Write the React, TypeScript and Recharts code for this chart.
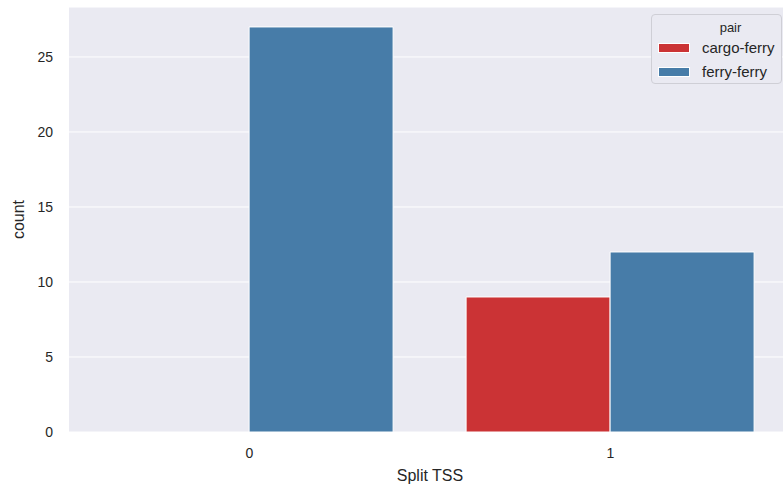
import { BarChart, Bar, XAxis, YAxis, CartesianGrid, Legend } from "recharts";

const categories = ["0", "1"];
const cargoFerry: (number | null)[] = [null, 9];
const ferryFerry: (number | null)[] = [27, 12];
const yTicks = [0, 5, 10, 15, 20, 25];

const RED = "#cb3335";
const BLUE = "#477ca8";
const FONT = "Arial, 'Liberation Sans', sans-serif";

const data = categories.map((c, i) => ({
  split: c,
  "cargo-ferry": cargoFerry[i],
  "ferry-ferry": ferryFerry[i],
}));

function LegendBox() {
  const items = [
    { name: "cargo-ferry", color: RED },
    { name: "ferry-ferry", color: BLUE },
  ];
  return (
    <div
      style={{
        width: 131,
        height: 70,
        boxSizing: "border-box",
        border: "1px solid #cfcfd6",
        borderRadius: 4,
        background: "#eaeaf2",
        fontFamily: FONT,
        color: "#262626",
        position: "relative",
      }}
    >
      <div style={{ position: "absolute", left: 0, right: 0, top: 5, textAlign: "center", fontSize: 13, paddingLeft: 28 }}>
        pair
      </div>
      {items.map((it, i) => (
        <div key={it.name} style={{ position: "absolute", left: 6, top: 27 + i * 24, display: "flex", alignItems: "center" }}>
          <div style={{ width: 32, height: 10, background: it.color, border: "1px solid #fff", boxSizing: "border-box" }} />
          <span style={{ marginLeft: 12, fontSize: 15, lineHeight: "12px" }}>{it.name}</span>
        </div>
      ))}
    </div>
  );
}

export default function App() {
  return (
    <div style={{ position: "fixed", left: 0, top: 0, width: 783, height: 487, overflow: "hidden", background: "#fff" }}>
      <BarChart
        width={791}
        height={487}
        data={data}
        margin={{ top: 7, right: 0, bottom: 0, left: 0 }}
        barCategoryGap="10%"
        barGap={0}
      >
        <CartesianGrid vertical={false} stroke="#ffffff" strokeWidth={1} fill="#eaeaf2" />
        <XAxis
          dataKey="split"
          axisLine={false}
          tickLine={false}
          tickSize={0}
          tickMargin={16}
          height={55}
          tick={{ fontSize: 14, fill: "#262626", fontFamily: FONT }}
          label={{ value: "Split TSS", position: "insideBottom", offset: 6, fontSize: 16, fill: "#262626", fontFamily: FONT }}
        />
        <YAxis
          width={69}
          domain={[0, 28.33]}
          ticks={yTicks}
          axisLine={false}
          tickLine={false}
          tickSize={0}
          tickMargin={16}
          tick={{ fontSize: 14, fill: "#262626", fontFamily: FONT }}
          label={{
            content: ({ viewBox }: any) => {
              const cy = viewBox.y + viewBox.height / 2;
              return (
                <text
                  x={24}
                  y={cy}
                  transform={`rotate(-90, 24, ${cy})`}
                  textAnchor="middle"
                  fontSize={16}
                  fill="#262626"
                  fontFamily={FONT}
                >
                  count
                </text>
              );
            },
          }}
        />
        <Legend
          layout="horizontal"
          verticalAlign="middle"
          align="center"
          content={() => <LegendBox />}
          wrapperStyle={{ position: "absolute", left: 651, top: 14, width: 131 }}
        />
        <Bar dataKey="cargo-ferry" fill={RED} stroke="#fff" strokeWidth={1} isAnimationActive={false} />
        <Bar dataKey="ferry-ferry" fill={BLUE} stroke="#fff" strokeWidth={1} isAnimationActive={false} />
      </BarChart>
    </div>
  );
}
